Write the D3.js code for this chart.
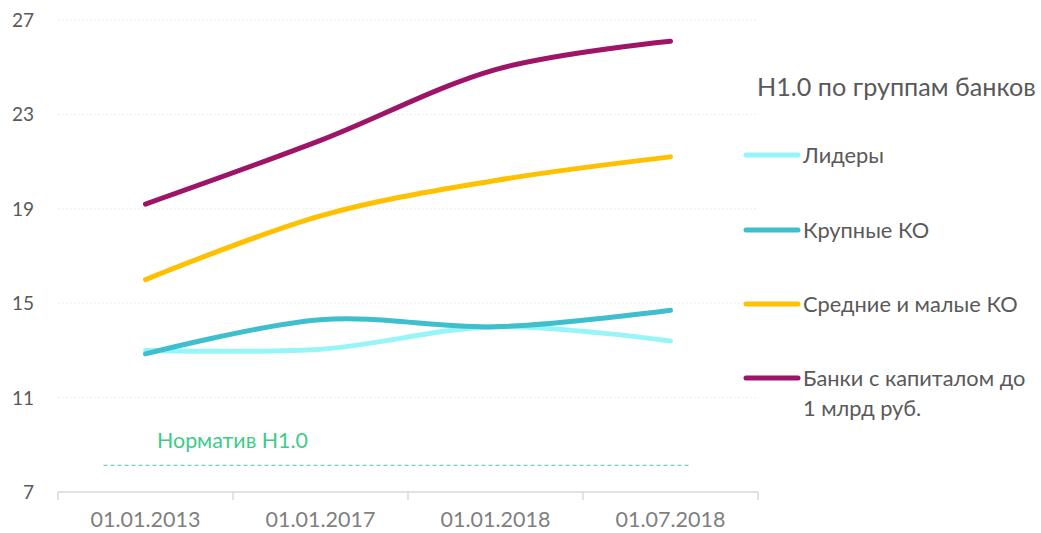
<!DOCTYPE html>
<html><head><meta charset="utf-8">
<script src="https://cdn.jsdelivr.net/npm/d3@7"></script>
<style>body{margin:0;background:#fff}svg{display:block;font-family:Lato,"Open Sans",sans-serif}</style>
</head><body><svg id="c" width="1041" height="533"></svg>
<script>
const categories = ["01.01.2013","01.01.2017","01.01.2018","01.07.2018"];
const seriesNames = ["Лидеры","Крупные КО","Средние и малые КО","Банки с капиталом до 1 млрд руб."];
const liders = [13.0, 13.05, 14.0, 13.4];
const krupnye = [12.85, 14.3, 14.0, 14.7];
const srednie = [16.0, 18.7, 20.2, 21.2];
const banki = [19.2, 21.9, 24.9, 26.1];
const yTicks = [7, 11, 15, 19, 23, 27];
const normValue = 8;
const normLabel = "Норматив H1.0";
const legendTitle = "H1.0 по группам банков";
const colors = ["#97F5F8","#3FBFCE","#FFC000","#9E1467"];

const svg = d3.select("#c");
const x = d3.scaleBand().domain(categories).range([58, 758]);
const y = d3.scaleLinear().domain([7, 27]).range([492, 20]);

// gridlines
svg.append("g").selectAll("line").data(yTicks.slice(1)).join("line")
  .attr("x1", 58).attr("x2", 758).attr("y1", d => y(d)).attr("y2", d => y(d))
  .attr("stroke", "#e6e6e6").attr("stroke-width", 1).attr("stroke-dasharray", "1.5,2.5");

// y labels
svg.append("g").selectAll("text").data(yTicks).join("text")
  .attr("x", 34).attr("y", d => y(d) + 7).attr("text-anchor", "end")
  .attr("font-size", 19).attr("fill", "#595959").text(d => d);

// x axis
const xa = svg.append("g");
xa.append("line").attr("x1", 58).attr("x2", 758).attr("y1", 492).attr("y2", 492).attr("stroke", "#d9d9d9").attr("stroke-width", 1.5);
const edges = categories.map(c => x(c)).concat([x(categories[categories.length-1]) + x.bandwidth()]);
xa.selectAll("line.t").data(edges).join("line").attr("class","t")
  .attr("x1", d => d).attr("x2", d => d).attr("y1", 492).attr("y2", 500).attr("stroke", "#d9d9d9").attr("stroke-width", 1.5);
xa.selectAll("text").data(categories).join("text")
  .attr("x", d => x(d) + x.bandwidth()/2).attr("y", 527).attr("text-anchor", "middle")
  .attr("font-size", 21.5).attr("fill", "#7f7f7f").text(d => d);

// normative
svg.append("line").attr("x1", 58 + x.bandwidth()*0.26).attr("x2", 758 - x.bandwidth()*0.38)
  .attr("y1", y(normValue) - 3).attr("y2", y(normValue) - 3)
  .attr("stroke", "#6fd6a8").attr("stroke-width", 1.3).attr("stroke-dasharray", "4,3");
svg.append("text").attr("x", 157).attr("y", 448).attr("font-size", 21.4).attr("fill", "#3ecb8a").text(normLabel);

// lines
const data = [liders, krupnye, srednie, banki];
const line = d3.line().x((d, i) => x(categories[i]) + x.bandwidth()/2).y(d => y(d)).curve(d3.curveCardinal.tension(0));
svg.append("g").selectAll("path").data(data).join("path")
  .attr("d", line).attr("fill", "none").attr("stroke", (d, i) => colors[i])
  .attr("stroke-width", 5).attr("stroke-linecap", "round");

// legend
svg.append("text").attr("x", 757).attr("y", 96).attr("font-size", 25.2).attr("fill", "#595959").text(legendTitle);
const ly = [155, 230, 304, 378];
const lg = svg.append("g");
seriesNames.forEach((n, i) => {
  lg.append("line").attr("x1", 746).attr("x2", 798).attr("y1", ly[i]).attr("y2", ly[i])
    .attr("stroke", colors[i]).attr("stroke-width", 5).attr("stroke-linecap", "round");
  const t = lg.append("text").attr("x", 803).attr("y", ly[i] + 8).attr("font-size", 21.8).attr("fill", "#595959");
  if (i === 3) {
    t.append("tspan").attr("x", 803).text("Банки с капиталом до");
    t.append("tspan").attr("x", 803).attr("dy", 30).text("1 млрд руб.");
  } else t.text(n);
});
</script></body></html>
